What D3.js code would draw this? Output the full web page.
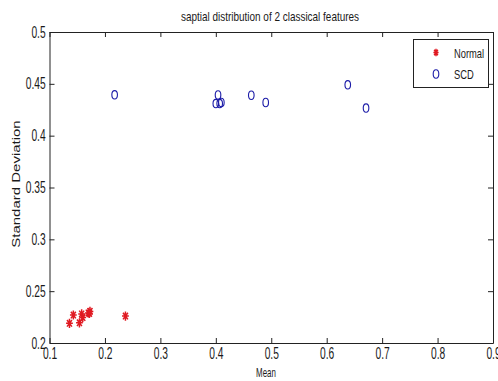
<!DOCTYPE html>
<html>
<head>
<meta charset="utf-8">
<script src="https://cdn.jsdelivr.net/npm/d3@7"></script>
<style>
  body { margin: 0; background: #fff; }
  svg { display: block; }
  text { font-family: "Liberation Sans", Arial, sans-serif; fill: #1a1a1a; }
</style>
</head>
<body>
<div id="chart"></div>
<script>
// data
const normalMean = [0.136, 0.143, 0.154, 0.158, 0.160, 0.170, 0.173, 0.172, 0.237];
const normalStd  = [0.219, 0.227, 0.2195, 0.228, 0.2245, 0.229, 0.2305, 0.2285, 0.226];
const scdMean = [0.2175, 0.400, 0.404, 0.407, 0.410, 0.464, 0.490, 0.638, 0.671];
const scdStd  = [0.4394, 0.431, 0.4393, 0.431, 0.432, 0.439, 0.432, 0.449, 0.4266];
const xTicks = [0.1, 0.2, 0.3, 0.4, 0.5, 0.6, 0.7, 0.8, 0.9];
const yTicks = [0.2, 0.25, 0.3, 0.35, 0.4, 0.45, 0.5];
const seriesNames = ["Normal", "SCD"];

const W = 498, H = 381;
const pLeft = 49.5, pRight = 493, pTop = 32, pBottom = 343;
const squeeze = 0.64; // the picture is squashed sideways

const svg = d3.select("#chart").append("svg")
  .attr("width", W).attr("height", H);

const x = d3.scaleLinear().domain([0.1, 0.9]).range([pLeft, pRight]);
const y = d3.scaleLinear().domain([0.2, 0.5]).range([pBottom, pTop]);

const fmt = d => String(+d.toFixed(2));

// axes, ticks pointing inward on all four sides
const axisColor = "#222";
svg.append("g").attr("transform", `translate(0,${pBottom})`)
  .call(d3.axisBottom(x).tickValues(xTicks).tickSizeInner(-5).tickSizeOuter(0).tickPadding(5).tickFormat(fmt))
  .call(g => g.selectAll("text").attr("font-size", 16).attr("transform", `scale(${squeeze},1)`));
svg.append("g").attr("transform", `translate(0,${pTop})`)
  .call(d3.axisTop(x).tickValues(xTicks).tickSizeInner(-5).tickSizeOuter(0).tickFormat(""));
svg.append("g").attr("transform", `translate(${pLeft},0)`)
  .call(d3.axisLeft(y).tickValues(yTicks).tickSizeInner(-5).tickSizeOuter(0).tickPadding(6).tickFormat(fmt))
  .call(g => g.selectAll("text").attr("font-size", 16).attr("transform", `scale(${squeeze},1)`));
svg.append("g").attr("transform", `translate(${pRight},0)`)
  .call(d3.axisRight(y).tickValues(yTicks).tickSizeInner(-5).tickSizeOuter(0).tickFormat(""));
svg.selectAll(".domain, .tick line").attr("stroke", axisColor);
svg.selectAll(".tick text").attr("fill", "#1a1a1a");

// MATLAB-ish "*" marker, squashed like the picture
const star = (rx, ry) => {
  const dx = rx * 0.72, dy = ry * 0.72;
  return `M${-rx},0L${rx},0M0,${-ry}L0,${ry}M${-dx},${-dy}L${dx},${dy}M${-dx},${dy}L${dx},${-dy}`;
};
const red = "#e01a22", blue = "#1c1ca8";

svg.append("g").selectAll("path")
  .data(normalMean.map((m, i) => [m, normalStd[i]]))
  .join("path")
  .attr("transform", d => `translate(${x(d[0])},${y(d[1])})`)
  .attr("d", star(3.4, 4.6))
  .attr("stroke", red).attr("stroke-width", 1.5).attr("fill", "none");

svg.append("g").selectAll("ellipse")
  .data(scdMean.map((m, i) => [m, scdStd[i]]))
  .join("ellipse")
  .attr("cx", d => x(d[0])).attr("cy", d => y(d[1]))
  .attr("rx", 2.8).attr("ry", 4.2)
  .attr("stroke", blue).attr("stroke-width", 1.1).attr("fill", "none");

// squashed text helper
function label(tx, ty, str, size, sx, anchor) {
  return svg.append("text")
    .attr("transform", `translate(${tx},${ty}) scale(${sx},1)`)
    .attr("text-anchor", anchor || "middle")
    .attr("font-size", size).text(str);
}

label(270, 20.5, "saptial distribution of 2 classical features", 12, 0.83);
label(266, 376.5, "Mean", 12, 0.66);
svg.append("text")
  .attr("transform", `translate(20,184) rotate(-90) scale(1,0.72)`)
  .attr("text-anchor", "middle").attr("font-size", 15)
  .attr("fill", "#333")
  .text("Standard Deviation");

// legend
const lg = svg.append("g");
lg.append("rect").attr("x", 413.5).attr("y", 39.5).attr("width", 75).attr("height", 48)
  .attr("fill", "#fff").attr("stroke", axisColor);
lg.append("path").attr("transform", "translate(436,52.5)").attr("d", star(2.6, 3.8))
  .attr("stroke", red).attr("stroke-width", 1.4).attr("fill", "none");
lg.append("ellipse").attr("cx", 436).attr("cy", 74).attr("rx", 2.8).attr("ry", 4.2)
  .attr("stroke", blue).attr("stroke-width", 1.1).attr("fill", "none");
seriesNames.forEach((d, i) => label(454, 58.3 + i * 20.7, d, 13, 0.72, "start"));
</script>
</body>
</html>
